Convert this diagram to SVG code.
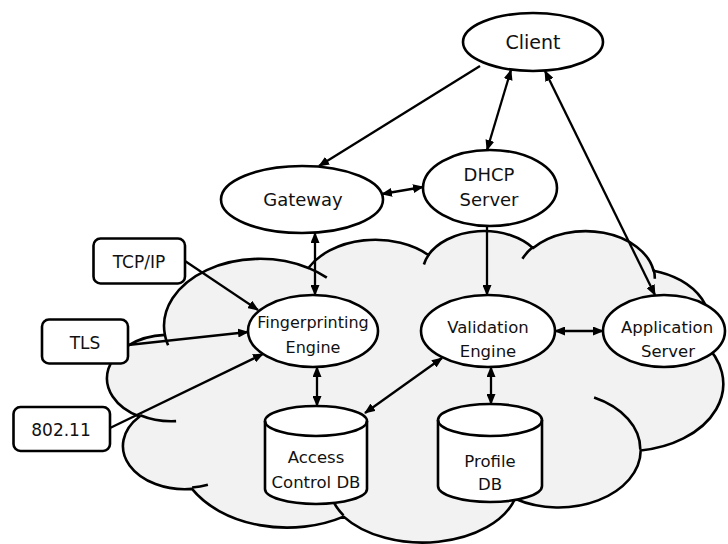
<svg xmlns="http://www.w3.org/2000/svg" width="728" height="544" viewBox="0 0 728 544">
<style>
.node{fill:#fff;stroke:#000;stroke-width:2.6}
.cloud{fill:#f2f2f2;stroke:#000;stroke-width:2.6;stroke-linejoin:round}
.inner{fill:none;stroke:#000;stroke-width:2.6}
.conn{fill:none;stroke:#000;stroke-width:2.3}
.t{font-family:"DejaVu Sans",sans-serif;fill:#111;text-anchor:middle}
</style>
<defs>
<marker id="ah" markerUnits="userSpaceOnUse" markerWidth="11" markerHeight="9" refX="10" refY="4.5" orient="auto-start-reverse">
<path d="M0,0 L11,4.5 L0,9 Z" fill="#000"/>
</marker>
</defs>
<g id="cloud">
<path class="cloud" d="M164.9,334.9 A95.9,67.1 0 0 1 308.4,268 A75.7,53 0 0 1 428.4,255 A62,43.4 0 0 1 533.1,248.1 A69,48.1 0 0 1 653.6,270.7 A75.7,53.1 0 0 1 703.3,342.8 A96.2,67.3 0 0 1 640.7,450.5 A82.1,57.4 0 0 1 515,498.7 A95.9,60 0 0 1 343.6,516.6 A109.6,77 0 0 1 192,488.9 A61.9,43.2 0 0 1 139.6,416.5 A61.7,43.4 0 0 1 164.9,334.9 Z"/>
<path class="inner" d="M176.1,421.1 A61.7,43.4 0 0 1 140.2,415.3 M207.9,484.8 A61.9,43.2 0 0 1 192.1,487.5 M343.5,515.4 A95.9,60 0 0 1 334,502.6 M518.8,483.7 A95.9,60 0 0 1 515.1,497.6 M594.1,397.6 A82.1,57.4 0 0 1 640.3,449.7 M703,342.1 A75.7,53.1 0 0 1 682.5,361.6 M653.7,269.6 A69,48.1 0 0 1 654.8,278.8 M522.4,258.8 A69,48.1 0 0 1 532.9,247.1 M423.9,264.5 A62,43.4 0 0 1 429,254.3 M308.3,267.9 A95.9,67.1 0 0 1 326.8,277.7 M168.1,345.3 A95.9,67.1 0 0 1 164.9,334.9"/>
</g>
<g id="connectors">
<path class="conn" d="M480,66 L319,166" marker-end="url(#ah)"/>
<path class="conn" d="M511,70 L487,150" marker-start="url(#ah)" marker-end="url(#ah)"/>
<path class="conn" d="M655,295 L545,71" marker-start="url(#ah)" marker-end="url(#ah)"/>
<path class="conn" d="M382,194 L423,187" marker-start="url(#ah)" marker-end="url(#ah)"/>
<path class="conn" d="M315,233 L315,295" marker-start="url(#ah)" marker-end="url(#ah)"/>
<path class="conn" d="M487,226 L487,295" marker-end="url(#ah)"/>
<path class="conn" d="M185,261 L258,310" marker-end="url(#ah)"/>
<path class="conn" d="M128,345 L248,332" marker-end="url(#ah)"/>
<path class="conn" d="M110,428 L263,354" marker-end="url(#ah)"/>
<path class="conn" d="M317,367 L317,406" marker-start="url(#ah)" marker-end="url(#ah)"/>
<path class="conn" d="M442,358 L365,413" marker-start="url(#ah)" marker-end="url(#ah)"/>
<path class="conn" d="M555,331 L603,331" marker-start="url(#ah)" marker-end="url(#ah)"/>
<path class="conn" d="M491,367 L491,404" marker-start="url(#ah)" marker-end="url(#ah)"/>
</g>
<g id="client">
<ellipse class="node" cx="533" cy="42" rx="70" ry="29"/>
<text class="t" x="533" y="49" font-size="19">Client</text>
</g>
<g id="gateway">
<ellipse class="node" cx="302" cy="199.5" rx="81" ry="33.5"/>
<text class="t" x="303" y="206" font-size="18">Gateway</text>
</g>
<g id="dhcp">
<ellipse class="node" cx="490" cy="188" rx="67" ry="38"/>
<text class="t" x="489" y="181" font-size="18">DHCP</text>
<text class="t" x="489" y="206" font-size="18">Server</text>
</g>
<g id="fingerprinting">
<ellipse class="node" cx="313" cy="331" rx="65" ry="36"/>
<text class="t" x="313" y="328" font-size="16">Fingerprinting</text>
<text class="t" x="313" y="352.5" font-size="16">Engine</text>
</g>
<g id="validation">
<ellipse class="node" cx="488" cy="331" rx="67" ry="36"/>
<text class="t" x="488" y="333" font-size="16.5">Validation</text>
<text class="t" x="488" y="357" font-size="16.5">Engine</text>
</g>
<g id="appserver">
<ellipse class="node" cx="664" cy="331" rx="61" ry="36"/>
<text class="t" x="667" y="333" font-size="16.5">Application</text>
<text class="t" x="668" y="357" font-size="16.5">Server</text>
</g>
<g id="accessdb">
<path class="node" d="M265,421 A51,15 0 0 1 367,421 V489 A51,15 0 0 1 265,489 Z"/>
<path class="inner" d="M265,421 A51,15 0 0 0 367,421"/>
<text class="t" x="316" y="463" font-size="16.5">Access</text>
<text class="t" x="316" y="488" font-size="16.5">Control DB</text>
</g>
<g id="profiledb">
<path class="node" d="M438,420 A52,16 0 0 1 542,420 V486 A52,16 0 0 1 438,486 Z"/>
<path class="inner" d="M438,420 A52,16 0 0 0 542,420"/>
<text class="t" x="490" y="466.5" font-size="16.5">Profile</text>
<text class="t" x="490" y="490" font-size="16.5">DB</text>
</g>
<g id="tcpip">
<rect class="node" x="93.5" y="238.5" width="91.5" height="45" rx="7"/>
<text class="t" x="139" y="268" font-size="17">TCP/IP</text>
</g>
<g id="tls">
<rect class="node" x="42" y="319.5" width="86" height="44" rx="7"/>
<text class="t" x="85" y="349" font-size="17">TLS</text>
</g>
<g id="ieee80211">
<rect class="node" x="13.5" y="407" width="96.5" height="44" rx="7"/>
<text class="t" x="61" y="436" font-size="17">802.11</text>
</g>
</svg>
